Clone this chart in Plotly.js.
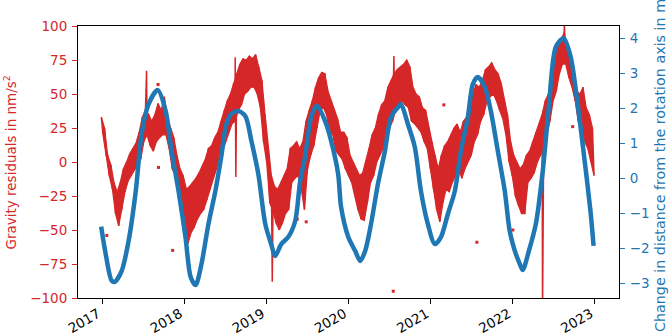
<!DOCTYPE html>
<html><head><meta charset="utf-8">
<script src="https://cdn.plot.ly/plotly-3.0.1.min.js"></script>
<style>html,body{margin:0;padding:0;background:#fff}#chart{width:670px;height:336px}</style>
</head><body><div id="chart"></div>
<script>
// Gravity residuals (nm/s^2): biweekly upper / lower readings of the noisy band
const gravStart = '2016-12-29';
const gravStepDays = 14;
const gravHi = [33,25,5,-2,-15,-22,-15,-5,0,6,10,14,22,33,38,35,30,35,43,38,
  48,32,25,18,5,-5,-10,-20,-18,-15,-12,-8,-3,2,10,12,18,22,30,38,
  45,50,58,65,72,76,75,78,76,79,70,60,35,10,-10,-18,-20,-15,-10,-5,
  10,12,15,10,15,30,38,45,55,62,66,65,52,45,38,32,22,22,18,5,
  0,-5,-10,-8,0,10,20,25,35,42,45,55,60,65,68,70,72,75,70,55,
  50,48,40,38,25,15,5,-5,5,12,15,20,25,28,22,30,33,35,50,57,
  55,60,68,70,73,68,65,58,45,35,15,5,0,-5,-2,5,8,15,22,28,
  35,45,50,62,75,85,90,95,85,75,65,52,50,55,40,35,25];
const gravLo = [20,5,-10,-20,-38,-47,-35,-22,-14,-10,-6,-3,2,15,20,12,8,15,18,20,
  20,10,-5,-10,-20,-40,-55,-60,-52,-48,-42,-38,-35,-28,-20,-12,-5,2,8,15,
  22,28,30,38,42,50,52,55,55,50,40,15,0,-30,-36,-45,-50,-45,-38,-35,
  -15,-12,-10,-20,-35,-5,5,12,25,38,40,35,22,20,8,5,2,-5,-10,-15,
  -25,-35,-42,-43,-30,-15,-10,0,5,10,15,25,30,38,42,45,42,40,30,28,
  25,22,15,10,-5,-20,-35,-44,-30,-20,-22,-15,-10,-5,-12,-5,0,5,15,20,
  30,35,45,48,50,45,38,32,20,0,-10,-25,-32,-38,-38,-15,-12,-8,0,5,
  12,20,30,45,52,65,72,72,62,55,45,30,25,15,10,0,-10];
// single-day outliers inside the gravity record
const spikeDates  = ['2017-07-18','2018-08-16','2018-08-19','2019-01-28','2020-07-22','2022-05-14','2022-08-19'];
const spikeValues = [67, 77, -11, -88, 78, -110, 102];
// isolated gravity samples (separated by data gaps)
const isolatedDates  = ['2017-01-22','2017-09-07','2017-09-09','2017-11-11','2019-05-19','2019-06-28',
  '2020-07-19','2021-03-01','2021-07-26','2022-01-02','2022-09-25'];
const isolatedValues = [-54, 57, -4, -65, -42, -44, -95, 42, -59, -50, 26];

// Change in distance from the rotation axis (m)
const distDates = ['2016-12-28','2017-01-17','2017-02-13','2017-02-26','2017-03-29','2017-04-29','2017-05-31',
  '2017-06-26','2017-07-27','2017-09-05','2017-10-11','2017-11-06','2017-12-07','2018-01-07','2018-01-30',
  '2018-02-21','2018-03-19','2018-04-19','2018-05-20','2018-06-15','2018-07-08','2018-07-30','2018-08-30',
  '2018-09-30','2018-10-27','2018-11-27','2018-12-28','2019-01-23','2019-02-10','2019-03-09','2019-04-09',
  '2019-05-10','2019-06-01','2019-06-23','2019-07-20','2019-08-15','2019-09-20','2019-10-17','2019-11-17',
  '2019-11-30','2020-01-01','2020-02-01','2020-02-23','2020-03-16','2020-04-11','2020-05-12','2020-06-12',
  '2020-07-09','2020-08-09','2020-08-22','2020-09-22','2020-10-23','2020-11-19','2020-12-20','2021-01-20',
  '2021-02-16','2021-03-19','2021-04-19','2021-05-16','2021-06-16','2021-07-08','2021-07-30','2021-08-30',
  '2021-09-26','2021-10-27','2021-11-27','2021-12-19','2022-01-11','2022-02-02','2022-02-15','2022-03-14',
  '2022-04-14','2022-05-15','2022-06-11','2022-07-12','2022-08-16','2022-09-16','2022-10-17','2022-11-12',
  '2022-12-13','2022-12-27'];
const distValues = [-1.38,-2.16,-2.93,-2.96,-2.65,-1.79,-0.36,
  1.27,2.12,2.52,1.92,0.78,-0.36,-1.68,-2.82,
  -3.05,-2.45,-1.31,-0.36,0.61,1.55,1.84,1.92,
  1.78,1.07,0.12,-1.31,-1.88,-2.22,-1.88,-1.68,
  -1.22,-0.08,0.61,1.75,2.07,1.63,1.06,0.12,
  -0.82,-1.68,-2.08,-2.36,-2.08,-1.31,-0.16,0.78,
  1.75,2.03,2.12,1.55,0.89,-0.36,-1.31,-1.88,
  -1.68,-1.02,-0.36,0.78,1.75,2.69,2.89,2.61,
  1.92,0.78,-0.36,-1.51,-2.08,-2.45,-2.62,-2.08,
  -1.31,0.21,2.04,3.75,4.0,3.47,2.12,0.78,
  -0.93,-1.93];

const yearTicks = ['2017','2018','2019','2020','2021','2022','2023'];

function addDays(s, d) {
  const t = new Date(s + 'T00:00:00Z');
  t.setUTCDate(t.getUTCDate() + d);
  return t.toISOString().slice(0, 10);
}
const hiDates = gravHi.map((v, k) => addDays(gravStart, k * gravStepDays));
const loDates = gravLo.map((v, k) => addDays(gravStart, k * gravStepDays + 7));
const pts = [];
for (let k = 0; k < gravHi.length; k++) {
  pts.push([hiDates[k], gravHi[k]]);
  pts.push([loDates[k], gravLo[k]]);
}
spikeDates.forEach((d, i) => pts.push([d, spikeValues[i]]));
pts.sort((a, b) => a[0] < b[0] ? -1 : a[0] > b[0] ? 1 : 0);

const RED = '#d62728', BLUE = '#1f77b4';
const traces = [
  {x: hiDates, y: gravHi, type: 'scatter', mode: 'lines',
   line: {color: RED, width: 1.2}, yaxis: 'y', hoverinfo: 'skip'},
  {x: loDates, y: gravLo, type: 'scatter', mode: 'lines', fill: 'tonexty', fillcolor: RED,
   line: {color: RED, width: 1.2}, yaxis: 'y', hoverinfo: 'skip'},
  {x: pts.map(p => p[0]), y: pts.map(p => p[1]), type: 'scatter', mode: 'lines',
   line: {color: RED, width: 1.5}, yaxis: 'y', hoverinfo: 'skip'},
  {x: isolatedDates, y: isolatedValues, type: 'scatter', mode: 'markers',
   marker: {color: RED, size: 3, symbol: 'square'}, yaxis: 'y', hoverinfo: 'skip'},
  {x: distDates, y: distValues, type: 'scatter', mode: 'lines',
   line: {color: BLUE, width: 4.5, shape: 'spline', smoothing: 0.8}, yaxis: 'y2', hoverinfo: 'skip'}
];

const layout = {
  width: 670, height: 336,
  margin: {l: 78, r: 51, t: 26, b: 38, pad: 0},
  paper_bgcolor: '#fff', plot_bgcolor: '#fff', showlegend: false,
  font: {family: 'DejaVu Sans', size: 13.5, color: '#000'},
  xaxis: {type: 'date', range: ['2016-09-16', '2023-04-19'],
    tickvals: yearTicks.map(y => y + '-01-01'), ticktext: yearTicks, tickangle: -30,
    ticks: 'outside', ticklen: 5, tickwidth: 1, tickcolor: '#000',
    ticklabelstandoff: -3, ticklabelshift: -4,
    showline: true, linecolor: '#000', linewidth: 1, mirror: true,
    showgrid: false, zeroline: false},
  yaxis: {range: [-100, 100], tick0: 0, dtick: 25,
    ticks: 'outside', ticklen: 5, tickwidth: 1, tickcolor: RED, tickfont: {color: RED},
    ticklabelstandoff: 2,
    showline: true, linecolor: '#000', linewidth: 1,
    showgrid: false, zeroline: false},
  yaxis2: {range: [-3.42, 4.35], tick0: 0, dtick: 1, overlaying: 'y', side: 'right',
    ticks: 'outside', ticklen: 5, tickwidth: 1, tickcolor: BLUE, tickfont: {color: BLUE},
    ticklabelstandoff: 2,
    showline: true, linecolor: '#000', linewidth: 1,
    showgrid: false, zeroline: false},
  annotations: [
    {text: 'Gravity residuals in nm/s<sup>2</sup>', textangle: -90, showarrow: false,
     xref: 'paper', yref: 'paper', x: -0.1257, y: 0.498, xanchor: 'center', yanchor: 'middle',
     font: {color: RED, size: 13.5}},
    {text: 'Change in distance from the rotation axis in m', textangle: -90, showarrow: false,
     xref: 'paper', yref: 'paper', x: 1.0758, y: 0.4853, xanchor: 'center', yanchor: 'middle',
     font: {color: BLUE, size: 14.3}}
  ]
};

Plotly.newPlot('chart', traces, layout, {displayModeBar: false, staticPlot: true});
</script>
</body></html>
